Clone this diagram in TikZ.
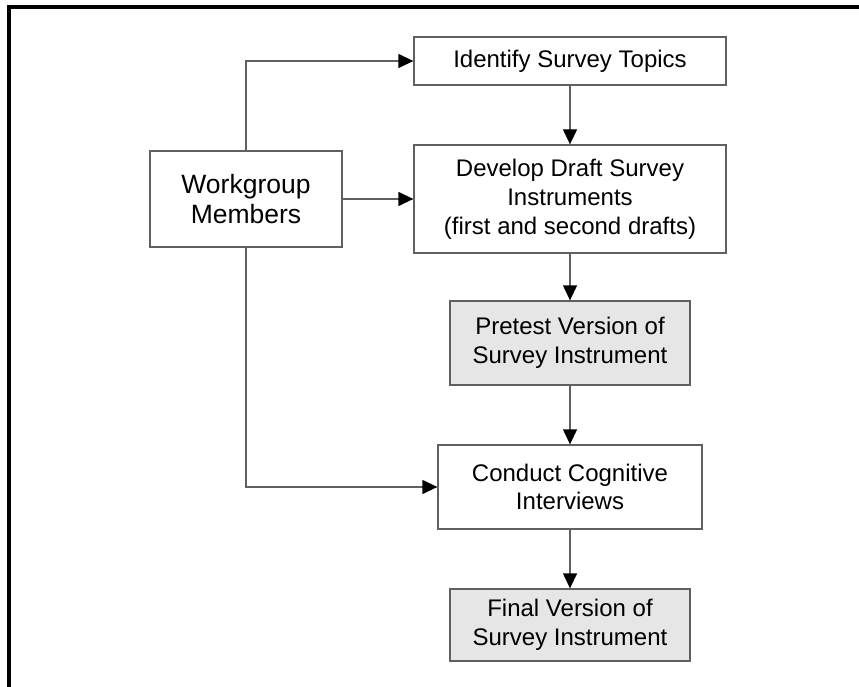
\documentclass[tikz,border=0pt]{standalone}
\usepackage{fontspec}
\setmainfont{Liberation Sans}
\usetikzlibrary{arrows.meta}
\definecolor{boxline}{HTML}{606060}
\definecolor{boxfill}{HTML}{E6E6E6}
\tikzset{
  stepbox/.style={draw=boxline, line width=1.3pt, inner sep=0pt, align=center,
    font=\fontsize{24}{28.8}\selectfont},
  greybox/.style={stepbox, fill=boxfill},
  conn/.style={draw=boxline, line width=1.3pt,
    -{Triangle[length=15pt,width=14pt,color=black]}},
}
\begin{document}
\begin{tikzpicture}[x=1pt,y=-1pt]
\useasboundingbox (0,0) rectangle (859,687);
\draw[line width=4pt] (9,687) -- (9,7.5) -- (859,7.5);
\node[stepbox, minimum width=312pt, minimum height=48pt] (ident) at (570,61) {Identify Survey Topics};
\node[stepbox, minimum width=312pt, minimum height=108pt] (dev) at (570,199) {Develop Draft Survey\\Instruments\\(first and second drafts)};
\node[greybox, minimum width=240pt, minimum height=84pt] (pre) at (570,343) {Pretest Version of\\Survey Instrument};
\node[stepbox, minimum width=264pt, minimum height=84pt] (cond) at (570,487) {Conduct Cognitive\\Interviews};
\node[greybox, minimum width=240pt, minimum height=72pt] (fin) at (570,625) {Final Version of\\Survey Instrument};
\node[stepbox, minimum width=192pt, minimum height=96pt, font=\fontsize{26.5}{30}\selectfont] (wg) at (246,199) {Workgroup\\Members};
\draw[conn] (ident) -- (dev);
\draw[conn] (dev) -- (pre);
\draw[conn] (pre) -- (cond);
\draw[conn] (cond) -- (fin);
\draw[conn] (wg) -- (dev);
\draw[conn] (wg.north) |- (ident.west);
\draw[conn] (wg.south) |- (cond.west);
\end{tikzpicture}
\end{document}
